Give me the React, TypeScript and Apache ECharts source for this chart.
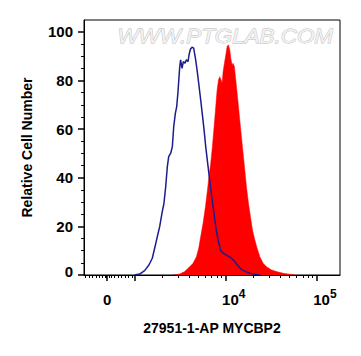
import React, { useEffect, useRef } from "react";
import * as echarts from "echarts";

// x values are in display (biexponential) units: t = log10(intensity) above 10^3, 0 sits at t≈2.70
const X_MIN = 2.445;
const X_MAX = 5.253;
const Y_MAX = 104.9;

const xMajorTicks = [2.7, 3, 4, 5];
const xLabelValues = [2.7, 4, 5];
const xLabelTexts = ["0", "10^4", "10^5"];
const xMinorTicks = [
  2.462, 2.5, 2.538, 2.577, 2.615, 2.648, 2.676, 2.692, 2.725, 2.747, 2.78, 2.819, 2.857, 2.896,
  2.934, 2.973, 3.301, 3.477, 3.602, 3.699, 3.778, 3.845, 3.903, 3.954, 4.301, 4.477, 4.602, 4.699,
  4.778, 4.845, 4.903, 4.954,
];
const yMajorTicks = [0, 20, 40, 60, 80, 100];
const yMinorTicks = [5, 10, 15, 25, 30, 35, 45, 50, 55, 65, 70, 75, 85, 90, 95];

// Isotype control (blue outline)
const controlX = [
  3.0, 3.055, 3.11, 3.157, 3.194, 3.22, 3.245, 3.275, 3.3, 3.322, 3.341, 3.359, 3.374, 3.396, 3.414,
  3.429, 3.447, 3.462, 3.476, 3.495, 3.505, 3.52, 3.535, 3.553, 3.568, 3.586, 3.597, 3.612, 3.63,
  3.648, 3.667, 3.685, 3.703, 3.725, 3.744, 3.762, 3.78, 3.806, 3.832, 3.861, 3.89, 3.916, 3.942,
  3.964, 4.007, 4.062, 4.099, 4.135, 4.172, 4.22, 4.264, 4.319, 4.374,
];
const controlY = [
  0, 0.4, 1.8, 4.1, 6.9, 11.0, 15.1, 19.9, 25.4, 29.5, 36.3, 44.6, 48.7, 50.1, 52.8, 61.0, 66.5,
  69.3, 75.4, 85.7, 88.5, 85.0, 87.8, 87.1, 88.5, 87.8, 90.5, 92.9, 93.7, 93.3, 89.2, 84.4, 78.9,
  72.0, 65.8, 59.7, 52.8, 44.6, 36.3, 28.1, 19.9, 14.4, 10.3, 9.2, 8.2, 6.9, 5.5, 3.7, 2.3, 1.4, 0.7,
  0.3, 0,
];

// MYCBP2 stained sample (red fill)
const sampleX = [
  3.421, 3.495, 3.549, 3.604, 3.641, 3.678, 3.703, 3.725, 3.751, 3.777, 3.799, 3.816, 3.835, 3.853,
  3.872, 3.89, 3.905, 3.92, 3.934, 3.949, 3.96, 3.971, 3.985, 4.0, 4.015, 4.029, 4.044, 4.055, 4.07,
  4.081, 4.095, 4.11, 4.125, 4.143, 4.161, 4.183, 4.205, 4.227, 4.249, 4.271, 4.293, 4.319, 4.344,
  4.374, 4.41, 4.447, 4.502, 4.557, 4.63, 4.703, 4.758,
];
const sampleY = [
  0, 0.4, 1.4, 3.4, 4.8, 7.5, 11.0, 15.8, 21.3, 28.1, 35.0, 40.5, 46.0, 52.8, 61.0, 69.3, 76.1,
  80.2, 81.6, 80.2, 78.9, 83.7, 87.1, 90.5, 94.0, 94.7, 92.6, 89.2, 86.4, 87.1, 85.7, 80.2, 74.8,
  67.9, 61.0, 52.8, 44.6, 36.3, 29.5, 24.0, 18.5, 14.4, 11.0, 7.5, 4.8, 3.4, 2.1, 1.4, 0.7, 0.3, 0,
];

const FONT = "'Liberation Sans', Arial, sans-serif";

export default function App() {
  const ref = useRef<HTMLDivElement>(null);

  useEffect(() => {
    document.body.style.margin = "0";
    if (!ref.current) return;
    const chart = echarts.init(ref.current, undefined, { renderer: "svg" });

    const labelMap: Record<string, string> = {};
    xLabelValues.forEach((v, i) => {
      const t = xLabelTexts[i];
      if (t.startsWith("10^")) {
        labelMap[String(v)] = `{p| }{b|10}{s|${t.slice(3)}}`;
      } else {
        labelMap[String(v)] = `{b|${t}}`;
      }
    });

    chart.setOption({
      animation: false,
      backgroundColor: "#ffffff",
      grid: {
        left: 84,
        right: 21,
        top: 20,
        bottom: 81,
        show: true,
        borderColor: "#000",
        borderWidth: 1,
        backgroundColor: "transparent",
      },
      graphic: [
        {
          type: "text",
          left: 117,
          top: 26,
          scaleX: 1.12,
          z: 1,
          style: {
            text: "WWW.PTGLAB.COM",
            font: `italic 20px ${FONT}`,
            fill: "#f2f2f2",
            stroke: "#b8b8b8",
            lineWidth: 0.8,
          },
        },
      ],
      xAxis: [
        {
          type: "value",
          min: X_MIN,
          max: X_MAX,
          position: "bottom",
          name: "27951-1-AP MYCBP2",
          nameLocation: "middle",
          nameGap: 46,
          nameTextStyle: { fontFamily: FONT, fontWeight: "bold", fontSize: 14, color: "#000" },
          axisLine: { show: true, onZero: false, lineStyle: { color: "#000", width: 1 } },
          axisTick: {
            show: true,
            length: 6,
            customValues: xMajorTicks,
            lineStyle: { color: "#000", width: 1.5 },
          },
          axisLabel: {
            show: true,
            customValues: xLabelValues,
            margin: 12,
            formatter: (v: number) => labelMap[String(v)] ?? "",
            rich: {
              p: { width: 16, fontSize: 15, fontFamily: FONT },
              b: {
                fontFamily: FONT,
                fontWeight: "bold",
                fontSize: 15,
                color: "#000",
                lineHeight: 20,
                verticalAlign: "bottom",
              },
              s: {
                fontFamily: FONT,
                fontWeight: "bold",
                fontSize: 12,
                color: "#000",
                verticalAlign: "bottom",
                padding: [0, 0, 7, 0],
              },
            },
          },
          splitLine: { show: false },
        },
        {
          type: "value",
          min: X_MIN,
          max: X_MAX,
          position: "bottom",
          axisLine: { show: false },
          axisTick: {
            show: true,
            length: 3,
            customValues: xMinorTicks,
            lineStyle: { color: "#000", width: 1 },
          },
          axisLabel: { show: false },
          splitLine: { show: false },
        },
      ],
      yAxis: [
        {
          type: "value",
          min: 0,
          max: Y_MAX,
          position: "left",
          name: "Relative Cell Number",
          nameLocation: "middle",
          nameGap: 50,
          nameTextStyle: { fontFamily: FONT, fontWeight: "bold", fontSize: 14, color: "#000" },
          axisLine: { show: true, onZero: false, lineStyle: { color: "#000", width: 1 } },
          axisTick: {
            show: true,
            length: 6,
            customValues: yMajorTicks,
            lineStyle: { color: "#000", width: 1.5 },
          },
          axisLabel: {
            show: true,
            customValues: yMajorTicks,
            margin: 11,
            fontFamily: FONT,
            fontWeight: "bold",
            fontSize: 15,
            color: "#000",
            formatter: (v: number) => (v === 0 ? "{z|0}" : String(v)),
            rich: {
              z: {
                fontFamily: FONT,
                fontWeight: "bold",
                fontSize: 15,
                color: "#000",
                padding: [0, 0, 8, 0],
              },
            },
          },
          splitLine: { show: false },
        },
        {
          type: "value",
          min: 0,
          max: Y_MAX,
          position: "left",
          axisLine: { show: false },
          axisTick: {
            show: true,
            length: 3,
            customValues: yMinorTicks,
            lineStyle: { color: "#000", width: 1 },
          },
          axisLabel: { show: false },
          splitLine: { show: false },
        },
      ],
      series: [
        {
          type: "line",
          name: "MYCBP2",
          xAxisIndex: 0,
          yAxisIndex: 0,
          data: sampleX.map((x, i) => [x, sampleY[i]]),
          showSymbol: false,
          symbol: "none",
          lineStyle: { width: 0.5, color: "#ff0000" },
          areaStyle: { color: "#ff0000", opacity: 1 },
          z: 3,
        },
        {
          type: "line",
          name: "Control",
          xAxisIndex: 0,
          yAxisIndex: 0,
          data: controlX.map((x, i) => [x, controlY[i]]),
          showSymbol: false,
          symbol: "none",
          lineStyle: { width: 1.5, color: "#1c1c8c" },
          z: 4,
        },
      ],
    });

    return () => chart.dispose();
  }, []);

  return (
    <div
      ref={ref}
      style={{ position: "absolute", left: 0, top: 0, width: 361, height: 356 }}
    />
  );
}
